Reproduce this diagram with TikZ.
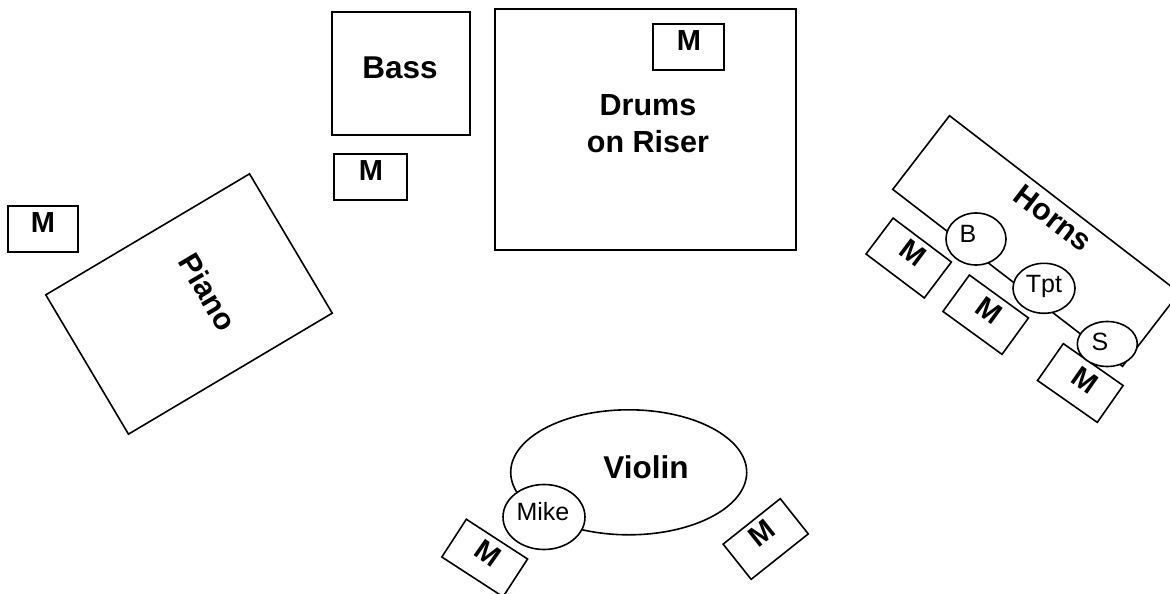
\documentclass[tikz,border=0pt]{standalone}
\usepackage{fontspec}
\setmainfont{Liberation Sans}
\usetikzlibrary{shapes.geometric}
\tikzset{
  x=1pt,y=-1pt,
  box/.style={draw=black,line width=1.6pt,rectangle,inner sep=0pt,outer sep=0pt,fill=none},
  mic/.style={box,minimum width=73pt,minimum height=45pt},
  mict/.style={inner sep=0pt,font=\fontsize{29}{29}\selectfont\bfseries},
  oval/.style={draw=black,line width=1.6pt,ellipse,inner sep=0pt,outer sep=0pt,fill=white},
  ovalt/.style={inner sep=0pt,font=\fontsize{25}{25}\selectfont},
  lbl/.style={inner sep=0pt,font=\fontsize{31.5}{37}\selectfont\bfseries,align=center},
}
\begin{document}
\begin{tikzpicture}
\useasboundingbox (0,0) rectangle (1170,594);
\clip (0,0) rectangle (1170,594);
% stage blocks
\node[box,minimum width=138pt,minimum height=123pt] (bass) at (401,73.5) {};
\node[box,minimum width=301pt,minimum height=241pt] (drums) at (645.5,129.5) {};
\node[box,minimum width=237pt,minimum height=162pt,rotate=30.7] (piano) at (189,304) {};
\node[box,minimum width=290pt,minimum height=93pt,rotate=-37.6] (horns) at (1036,241) {};
% labels
\node[lbl] (basst) at (400,68) {Bass};
\node[lbl,font=\fontsize{30.5}{37}\selectfont\bfseries] (drumst) at (648,124) {Drums\\on Riser};
\node[lbl,font=\fontsize{30.5}{37}\selectfont\bfseries,rotate=-59.5] (pianot) at (208,292) {Piano};
\node[lbl,font=\fontsize{30.5}{37}\selectfont\bfseries,rotate=-37.6] (hornst) at (1053,218) {Horns};
% mics
\node[mic,minimum width=71pt,minimum height=46pt] (m1) at (688.5,47) {};
\node[mic,minimum width=73pt,minimum height=46pt] (m2) at (370.5,177) {};
\node[mic,minimum width=70pt,minimum height=46pt] (m3) at (43,229) {};
\node[mic,rotate=-37] (m4) at (908.7,258) {};
\node[mic,rotate=-36] (m5) at (985.7,314.7) {};
\node[mic,rotate=-35] (m6) at (1080.3,383) {};
\node[mic,rotate=-33] (m7) at (484.7,558) {};
\node[mic,rotate=38.5] (m8) at (765.7,539) {};
\node[mict] (m1t) at (689,41) {M};
\node[mict] (m2t) at (371,171) {M};
\node[mict] (m3t) at (43,223) {M};
\node[mict,rotate=-37] (m4t) at (913,253) {M};
\node[mict,rotate=-36] (m5t) at (989,311) {M};
\node[mict,rotate=-35] (m6t) at (1085,380) {M};
\node[mict,rotate=-35] (m7t) at (488,553) {M};
\node[mict,rotate=38.5] (m8t) at (761.7,533) {M};
% players
\node[oval,minimum width=60pt,minimum height=52pt] (b) at (976,239) {};
\node[oval,minimum width=62pt,minimum height=50pt] (tpt) at (1044,288.3) {};
\node[oval,minimum width=60pt,minimum height=45pt] (s) at (1107.3,344) {};
\node[oval,minimum width=236pt,minimum height=125pt] (violin) at (628.7,472.3) {};
\node[lbl] (violint) at (646,467) {Violin};
\node[oval,minimum width=82pt,minimum height=65pt] (mike) at (544,517) {};
\node[ovalt] (bt) at (968,234) {B};
\node[ovalt] (tptt) at (1044,286) {Tpt};
\node[ovalt] (st) at (1100,342) {S};
\node[ovalt] (miket) at (543,512) {Mike};
\end{tikzpicture}
\end{document}
